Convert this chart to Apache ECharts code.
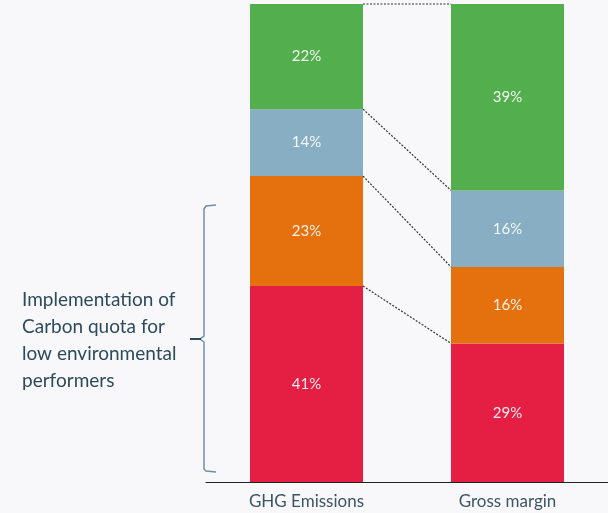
<!DOCTYPE html>
<html>
<head>
<meta charset="utf-8">
<script src="https://cdn.jsdelivr.net/npm/echarts@6/dist/echarts.min.js"></script>
<style>html,body{margin:0;padding:0;background:#f8f8fb;}#c{width:608px;height:513px;}</style>
</head>
<body>
<div id="c"></div>
<script>
var categories = ['GHG Emissions', 'Gross margin'];
var segmentNames = ['Low', 'Mid-low', 'Mid-high', 'High'];
var redValues = [41, 29];
var orangeValues = [23, 16];
var blueValues = [14, 16];
var greenValues = [22, 39];
var colors = ['#e41f43', '#e5700e', '#88aec4', '#53ae4d'];
var bracketText = 'Implementation of\nCarbon quota for\nlow environmental\nperformers';

var stacks = [redValues, orangeValues, blueValues, greenValues];
var BAR_W = 113;

var connectors = [];
var c0 = 0, c1 = 0;
for (var i = 0; i < stacks.length; i++) {
  c0 += stacks[i][0]; c1 += stacks[i][1];
  connectors.push([c0, c1]);
}

var series = stacks.map(function (vals, i) {
  return {
    name: segmentNames[i],
    type: 'bar',
    stack: 'total',
    barWidth: BAR_W,
    data: vals,
    itemStyle: { color: colors[i] },
    label: {
      show: true,
      position: 'inside',
      formatter: '{c}%',
      color: 'rgba(255,255,255,0.9)',
      fontSize: 15,
      fontFamily: 'Lato, sans-serif'
    }
  };
});

series.push({
  type: 'custom',
  data: connectors,
  silent: true,
  z: 5,
  encode: { x: -1, y: -1 },
  renderItem: function (params, api) {
    var p0 = api.coord([0, api.value(0)]);
    var p1 = api.coord([1, api.value(1)]);
    return {
      type: 'line',
      shape: { x1: p0[0] + BAR_W / 2, y1: p0[1], x2: p1[0] - BAR_W / 2, y2: p1[1] },
      style: { stroke: '#333', lineWidth: 1.2, lineDash: [2, 1.5] }
    };
  }
});

var chart = echarts.init(document.getElementById('c'));
chart.setOption({
  backgroundColor: '#f8f8fb',
  animation: false,
  grid: { left: 206, right: -7, top: 4, bottom: 31 },
  xAxis: {
    type: 'category',
    data: categories,
    axisLine: { lineStyle: { color: '#222', width: 1 } },
    axisTick: { show: false },
    axisLabel: { color: '#3b5566', fontSize: 17, fontFamily: 'Lato, sans-serif', margin: 11 }
  },
  yAxis: { type: 'value', min: 0, max: 100, show: false, splitLine: { show: false } },
  series: series,
  graphic: [
    {
      type: 'polyline',
      shape: { points: [[216, 205], [206, 206], [204, 209], [204, 336], [200, 339], [204, 342], [204, 469], [206, 471], [216, 472]] },
      style: { stroke: '#6f90a4', lineWidth: 1.5, fill: null }
    },
    {
      type: 'line',
      shape: { x1: 190, y1: 339, x2: 201, y2: 339 },
      style: { stroke: '#2d4a5c', lineWidth: 2 }
    },
    {
      type: 'text',
      left: 22,
      top: 286,
      style: {
        text: bracketText,
        fill: '#2d4a5c',
        fontSize: 19,
        lineHeight: 27,
        fontFamily: 'Lato, sans-serif'
      }
    }
  ]
});
</script>
</body>
</html>
